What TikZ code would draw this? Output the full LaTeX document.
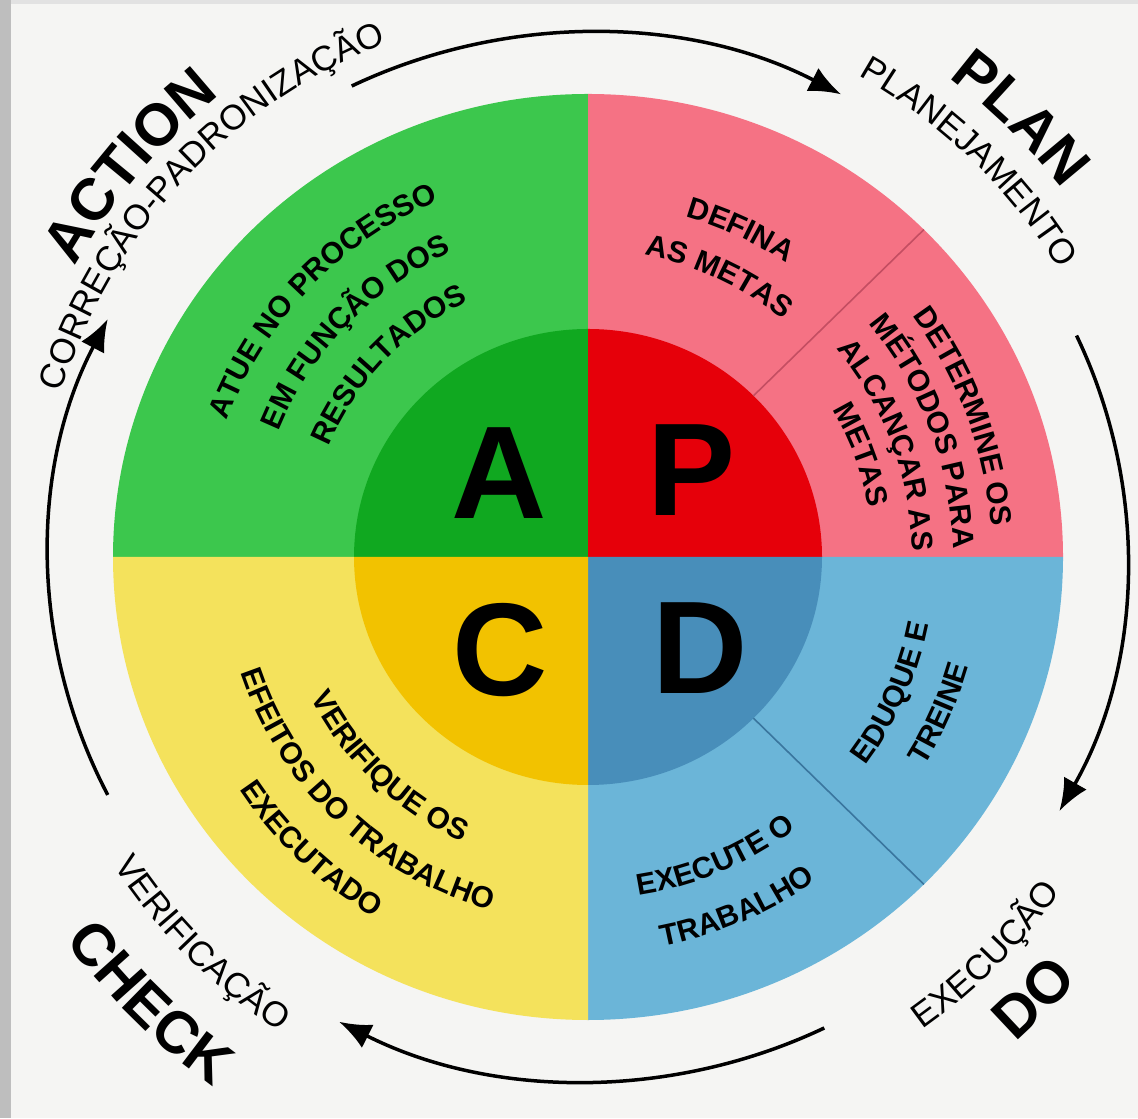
\documentclass[tikz,border=0pt]{standalone}
\usepackage{fontspec}
\setmainfont{Liberation Sans}
\usetikzlibrary{decorations.text,arrows.meta}
\definecolor{bgc}{HTML}{F5F5F3}
\definecolor{stripL}{HTML}{BEBEBE}
\definecolor{stripT}{HTML}{E2E2E2}
\definecolor{gOut}{RGB}{60,199,77}
\definecolor{gIn}{RGB}{16,168,32}
\definecolor{pOut}{RGB}{245,114,132}
\definecolor{pIn}{RGB}{230,0,10}
\definecolor{yOut}{RGB}{244,226,92}
\definecolor{yIn}{RGB}{242,194,0}
\definecolor{bOut}{RGB}{107,181,216}
\definecolor{bIn}{RGB}{72,142,186}
\definecolor{pLine}{RGB}{196,78,98}
\definecolor{bLine}{RGB}{58,118,158}
\newcommand{\bigw}{\bfseries\fontsize{29.5}{29.5}\selectfont}
\newcommand{\smallw}{\fontsize{17.5}{17.5}\selectfont}
\newcommand{\qf}{\bfseries\fontsize{15}{15}\selectfont}
% clockwise text (tops outward): #1 centre angle, #2 baseline radius, #3 format, #4 text
\newcommand{\cwtext}[4]{%
  \path[decorate,decoration={text along path,text align=center,text={|#3|#4}}]
    (C) ++({#1+60}:#2) arc[start angle={#1+60}, end angle={#1-60}, radius=#2];}
% counter-clockwise text (tops inward)
\newcommand{\ccwtext}[4]{%
  \path[decorate,decoration={text along path,text align=center,text={|#3|#4}}]
    (C) ++({#1-60}:#2) arc[start angle={#1-60}, end angle={#1+60}, radius=#2];}
\tikzset{
  cyc/.style={line width=1.75pt,-{Latex[length=16pt,width=13pt]}},
  bigl/.style={inner sep=0pt,anchor=center,font=\bfseries\fontsize{66}{66}\selectfont},
  splitp/.style={pLine,line width=0.8pt},
  splitb/.style={bLine,line width=0.8pt}
}
\begin{document}
\begin{tikzpicture}[x=0.5pt,y=0.5pt]
\useasboundingbox (0,0) rectangle (1138,1118);
\fill[bgc] (0,0) rectangle (1138,1118);
\fill[stripL] (0,0) rectangle (11,1118);
\fill[stripT] (11,1114) rectangle (1138,1118);
\coordinate (C) at (588,561);
% outer sectors
\fill[gOut] (C) -- ++(90:475 and 463) arc[start angle=90,end angle=180,x radius=475,y radius=463] -- cycle;
\fill[pOut] (C) -- ++(0:475 and 463) arc[start angle=0,end angle=90,x radius=475,y radius=463] -- cycle;
\fill[bOut] (C) -- ++(-90:475 and 463) arc[start angle=-90,end angle=0,x radius=475,y radius=463] -- cycle;
\fill[yOut] (C) -- ++(180:475 and 463) arc[start angle=180,end angle=270,x radius=475,y radius=463] -- cycle;
% inner sectors
\fill[gIn] (C) -- ++(90:234 and 228) arc[start angle=90,end angle=180,x radius=234,y radius=228] -- cycle;
\fill[pIn] (C) -- ++(0:234 and 228) arc[start angle=0,end angle=90,x radius=234,y radius=228] -- cycle;
\fill[bIn] (C) -- ++(-90:234 and 228) arc[start angle=-90,end angle=0,x radius=234,y radius=228] -- cycle;
\fill[yIn] (C) -- ++(180:234 and 228) arc[start angle=180,end angle=270,x radius=234,y radius=228] -- cycle;
% split lines
\path (C) ++(45:234 and 228) coordinate (ps1);
\path (C) ++(45:475 and 463) coordinate (ps2);
\path (C) ++(-45:234 and 228) coordinate (bs1);
\path (C) ++(-45:475 and 463) coordinate (bs2);
\draw[splitp] (ps1) -- (ps2);
\draw[splitb] (bs1) -- (bs2);
% big letters
\node[bigl] (lA) at (499,645) {A};
\node[bigl] (lP) at (692,648) {P};
\node[bigl] (lC) at (500,468) {C};
\node[bigl] (lD) at (700,470) {D};
% quadrant texts
\cwtext{136}{386}{\qf}{ATUE NO PROCESSO}
\cwtext{136}{334}{\qf}{EM FUNÇÃO DOS}
\cwtext{136}{282}{\qf}{RESULTADOS}
\cwtext{65}{354}{\qf}{DEFINA}
\cwtext{65}{307}{\qf}{AS METAS}
\cwtext{20.5}{404}{\qf}{DETERMINE OS}
\cwtext{20.5}{365}{\qf}{MÉTODOS PARA}
\cwtext{20.5}{324}{\qf}{ALCANÇAR AS}
\cwtext{20.5}{285}{\qf}{METAS}
\ccwtext{-24}{347}{\qf}{EDUQUE E}
\ccwtext{-24}{396}{\qf}{TREINE}
\ccwtext{-67}{342}{\qf}{EXECUTE O}
\ccwtext{-67}{396}{\qf}{TRABALHO}
\ccwtext{-133.5}{311}{\qf}{VERIFIQUE OS}
\ccwtext{-133.5}{366}{\qf}{EFEITOS DO TRABALHO}
\ccwtext{-133.5}{419}{\qf}{EXECUTADO}
% cycle arrows
\draw[cyc] (C) ++(116:539 and 524) arc[start angle=116,end angle=62,x radius=539,y radius=524];
\draw[cyc] (C) ++(25:539 and 524) arc[start angle=25,end angle=-29,x radius=539,y radius=524];
\draw[cyc] (C) ++(-64:539 and 524) arc[start angle=-64,end angle=-117.5,x radius=539,y radius=524];
\draw[cyc] (C) ++(207:539 and 524) arc[start angle=207,end angle=153,x radius=539,y radius=524];
% outer labels
\cwtext{139.5}{590}{\bigw}{ACTION}
\cwtext{137}{552}{\smallw}{CORREÇÃO-PADRONIZAÇÃO}
\cwtext{45.4}{600}{\bigw}{PLAN}
\cwtext{46}{552}{\smallw}{PLANEJAMENTO}
\ccwtext{-44.7}{647}{\bigw}{DO}
\ccwtext{-45}{579}{\smallw}{EXECUÇÃO}
\ccwtext{-134.5}{648}{\bigw}{CHECK}
\ccwtext{-135}{566}{\smallw}{VERIFICAÇÃO}
\end{tikzpicture}
\end{document}
